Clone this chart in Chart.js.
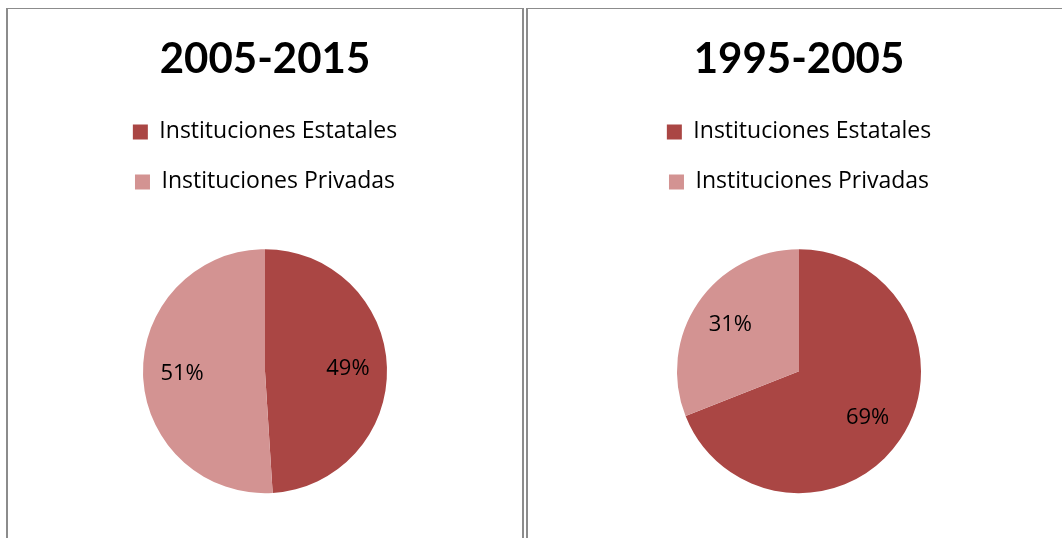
<!DOCTYPE html>
<html>
<head>
<meta charset="utf-8">
<script src="https://cdn.jsdelivr.net/npm/chart.js@4.4.0/dist/chart.umd.min.js"></script>
<style>
  html, body { margin: 0; padding: 0; background: #fff; overflow: hidden; width: 1062px; height: 538px; }
  .panel { position: absolute; top: 8px; height: 600px; border-top: 1px solid #8c8c8c; border-left: 2px solid #8c8c8c; overflow: hidden; background: #fff; }
  #p1 { left: 6px; width: 514px; border-right: 2px solid #8c8c8c; }
  #p2 { left: 526px; width: 542px; }
  .panel canvas { position: absolute; left: 0; top: 0; }
</style>
</head>
<body>
<div class="panel" id="p1"><canvas id="pie1" width="514" height="560"></canvas></div>
<div class="panel" id="p2"><canvas id="pie2" width="542" height="560"></canvas></div>
<script>
const categorias = ['Instituciones Estatales', 'Instituciones Privadas'];
const periodos = ['2005-2015', '1995-2005'];
const valores2005_2015 = [49, 51];
const valores1995_2005 = [69, 31];
const colores = ['#AA4644', '#D39392'];

const fuenteTitulo = 'Lato';
const fuente = 'Open Sans';

// etiquetas de porcentaje dentro de cada sector
const etiquetasPorcentaje = {
  id: 'etiquetasPorcentaje',
  afterDatasetsDraw(chart) {
    const ctx = chart.ctx;
    const meta = chart.getDatasetMeta(0);
    const datos = chart.data.datasets[0].data;
    ctx.save();
    ctx.font = '22px "' + fuente + '"';
    ctx.fillStyle = '#000';
    ctx.textAlign = 'center';
    ctx.textBaseline = 'middle';
    meta.data.forEach((arco, i) => {
      const p = arco.getProps(['x', 'y', 'startAngle', 'endAngle', 'outerRadius']);
      const medio = (p.startAngle + p.endAngle) / 2;
      const r = p.outerRadius * 0.68;
      ctx.fillText(datos[i] + '%', p.x + Math.cos(medio) * r, p.y + Math.sin(medio) * r);
    });
    ctx.restore();
  }
};

function crearTorta(id, titulo, valores) {
  const ctx = document.getElementById(id).getContext('2d');
  return new Chart(ctx, {
    type: 'pie',
    data: {
      labels: categorias,
      datasets: [{
        data: valores,
        backgroundColor: colores,
        borderWidth: 0,
        radius: 122
      }]
    },
    options: {
      responsive: false,
      animation: false,
      devicePixelRatio: 1,
      layout: { padding: { top: 0, bottom: 30 } },
      plugins: {
        title: {
          display: true,
          text: titulo,
          color: '#000',
          font: { family: fuenteTitulo, size: 42, weight: 'bold' },
          padding: { top: 25, bottom: 9 }
        },
        legend: {
          position: 'top',
          labels: {
            color: '#000',
            boxWidth: 15,
            boxHeight: 15,
            padding: 27,
            font: { family: fuente, size: 23 }
          }
        },
        tooltip: { enabled: false }
      }
    },
    plugins: [etiquetasPorcentaje]
  });
}

crearTorta('pie1', periodos[0], valores2005_2015);
crearTorta('pie2', periodos[1], valores1995_2005);
</script>
</body>
</html>
